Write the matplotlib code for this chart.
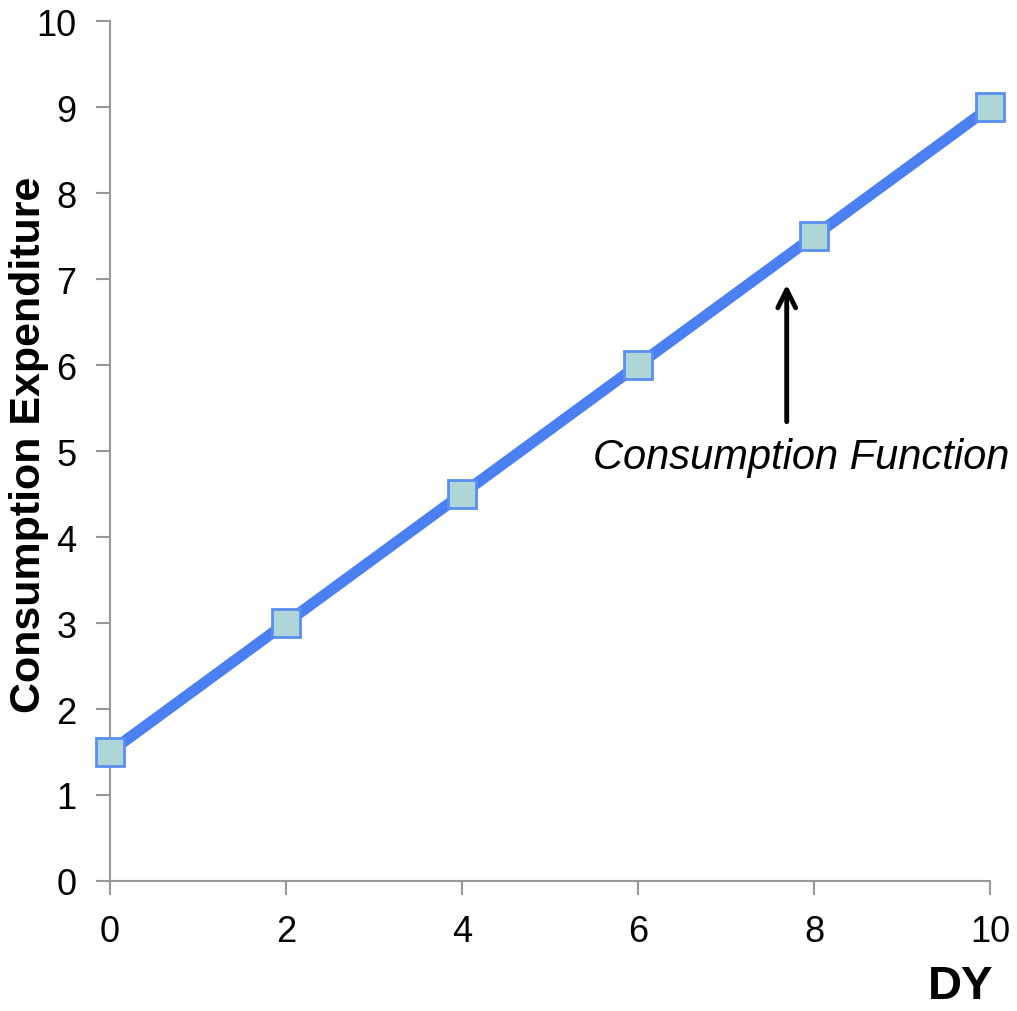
import matplotlib
matplotlib.use("Agg")
import matplotlib.pyplot as plt

# Data
dy = [0, 2, 4, 6, 8, 10]
consumption = [1.5, 3, 4.5, 6, 7.5, 9]
xticks = [0, 2, 4, 6, 8, 10]
yticks = list(range(0, 11))

plt.rcParams["font.family"] = ["Liberation Sans", "DejaVu Sans"]

fig = plt.figure(figsize=(10.17, 10.12), dpi=100)
ax = fig.add_axes([0.108, 0.1285, 0.8655, 0.8495])

ax.plot(dy, consumption, color="#4a80f2", lw=8, solid_capstyle="butt",
        zorder=2, clip_on=False)
ax.plot(dy, consumption, ls="none", marker="s", ms=20, mfc="#aed6d7",
        mec="#5a8ef5", mew=2, zorder=3, clip_on=False)

ax.set_xlim(0, 10)
ax.set_ylim(0, 10)
ax.set_xticks(xticks)
ax.set_yticks(yticks)
ax.tick_params(axis="both", labelsize=26, colors="#999999", labelcolor="black",
               length=10, width=1.5)
ax.tick_params(axis="x", pad=14)
ax.tick_params(axis="y", pad=14)

for side in ["top", "right"]:
    ax.spines[side].set_visible(False)
for side in ["left", "bottom"]:
    ax.spines[side].set_color("#999999")
    ax.spines[side].set_linewidth(1.5)

# Axis titles
fig.text(0.029, 0.56, "Consumption Expenditure", fontsize=31, fontweight="bold",
         rotation=90, ha="center", va="center")
fig.text(0.945, 0.003, "DY", fontsize=34, fontweight="bold", ha="center", va="bottom")

# Annotation
ax.annotate("", xy=(7.69, 6.97), xytext=(7.69, 5.31),
            arrowprops=dict(arrowstyle="->", color="black", lw=3.5, mutation_scale=32))
ax.text(7.86, 4.93, "Consumption Function", fontsize=30, style="italic",
        ha="center", va="center")

fig.savefig("out.png", dpi=100)
